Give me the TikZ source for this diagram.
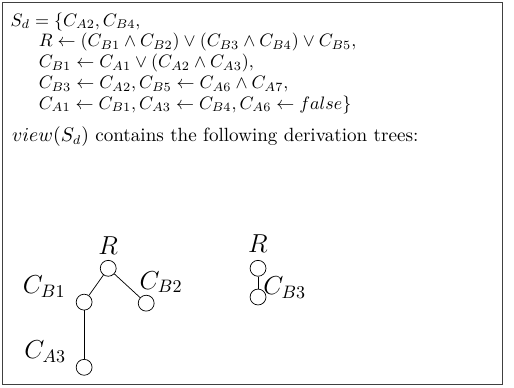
\documentclass[tikz,border=0pt]{standalone}
\usepackage{amsmath,amssymb}
\usetikzlibrary{positioning}

\begin{document}
\begin{tikzpicture}[
  vtx/.style={draw, circle, inner sep=0pt, minimum size=0.31cm},
  lbl/.style={font=\Large, inner sep=0pt},
]
\useasboundingbox (0,0) rectangle (10.02,-7.55);

% frame
\draw[black!75] (0.04,-0.04) rectangle (9.79,-7.49);

% the set S_d
\node[anchor=north west, align=left, inner sep=0pt, font=\fontsize{10}{11.5}\selectfont] (sd) at (0.2,-0.24)
  {$S_d = \{C_{A2}, C_{B4},$\\
   \hspace*{0.55cm}$R \leftarrow (C_{B1} \wedge C_{B2}) \vee (C_{B3} \wedge C_{B4}) \vee C_{B5},$\\
   \hspace*{0.55cm}$C_{B1} \leftarrow C_{A1} \vee (C_{A2} \wedge C_{A3}),$\\
   \hspace*{0.55cm}$C_{B3} \leftarrow C_{A2}, C_{B5} \leftarrow C_{A6} \wedge C_{A7},$\\
   \hspace*{0.55cm}$C_{A1} \leftarrow C_{B1}, C_{A3} \leftarrow C_{B4}, C_{A6} \leftarrow false\}$};

\node[anchor=base west, inner sep=0pt, font=\fontsize{10.6}{12}\selectfont] (txt) at (0.23,-2.76) {$view(S_d)$ contains the following derivation trees:};

% first tree
\node[vtx] (r1) at (2.11,-5.23) {};
\node[vtx] (b1) at (1.64,-5.89) {};
\node[vtx] (b2) at (2.85,-5.91) {};
\node[vtx] (a3) at (1.64,-7.16) {};
\draw (r1) -- (b1);
\draw (r1) -- (b2);
\draw (b1) -- (a3);

\node[lbl] (r1l) at (2.11,-4.78) {$R$};
\node[lbl] (b1l) at (0.86,-5.58) {$C_{B1}$};
\node[lbl] (b2l) at (3.14,-5.5) {$C_{B2}$};
\node[lbl] (a3l) at (0.88,-6.86) {$C_{A3}$};

% second tree
\node[vtx] (r2) at (5.03,-5.23) {};
\node[vtx] (b3) at (5.03,-5.79) {};
\draw (r2) -- (b3);

\node[lbl] (r2l) at (5.03,-4.74) {$R$};
\node[lbl] (b3l) at (5.55,-5.6) {$C_{B3}$};

\end{tikzpicture}
\end{document}
